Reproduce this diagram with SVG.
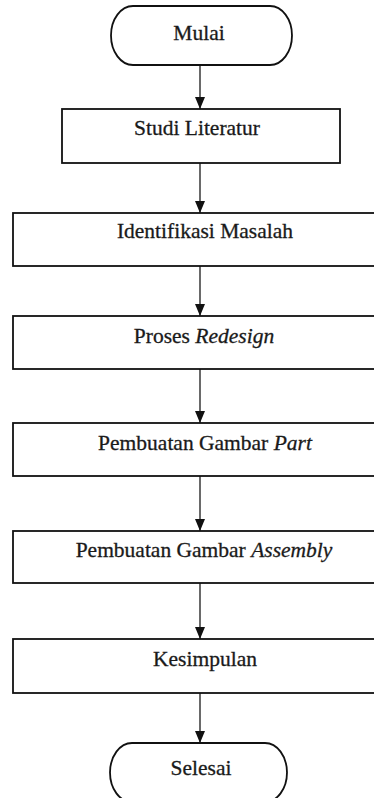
<svg xmlns="http://www.w3.org/2000/svg" width="374" height="798" viewBox="0 0 374 798">
  <defs>
    <style>
      .box { fill: #ffffff; stroke: #111111; stroke-width: 1.8; }
      .lbl { font-family: 'Liberation Serif', 'DejaVu Serif', serif; font-size: 21.5px; fill: #1a1a1a; stroke: #1a1a1a; stroke-width: 0.3; text-anchor: middle; }
      .it { font-style: italic; }
      .conn { stroke: #444444; stroke-width: 1.6; fill: none; }
    </style>
    <marker id="arr" viewBox="0 0 12 10" refX="12" refY="5" markerWidth="12" markerHeight="10" markerUnits="userSpaceOnUse" orient="auto">
      <path d="M0,0 L12,5 L0,10 Z" fill="#111111"/>
    </marker>
  </defs>
  <rect width="374" height="798" fill="#ffffff"/>

  <g id="connectors">
    <line class="conn" x1="200" y1="65" x2="200" y2="109" marker-end="url(#arr)"/>
    <line class="conn" x1="200" y1="163" x2="200" y2="213" marker-end="url(#arr)"/>
    <line class="conn" x1="200" y1="266" x2="200" y2="316" marker-end="url(#arr)"/>
    <line class="conn" x1="200" y1="369" x2="200" y2="423" marker-end="url(#arr)"/>
    <line class="conn" x1="200" y1="476" x2="200" y2="531" marker-end="url(#arr)"/>
    <line class="conn" x1="200" y1="583" x2="200" y2="639" marker-end="url(#arr)"/>
    <line class="conn" x1="200" y1="693" x2="200" y2="743" marker-end="url(#arr)"/>
  </g>

  <g id="mulai">
    <path class="box" d="M133,6 L270,6 A22,29.5 0 0 1 270,65 L133,65 A22,29.5 0 0 1 133,6 Z"/>
    <text class="lbl" font-family="Liberation Serif" x="199" y="40">Mulai</text>
  </g>

  <g id="studi-literatur">
    <rect class="box" x="62" y="109" width="278" height="54"/>
    <text class="lbl" font-family="Liberation Serif" x="197" y="135">Studi Literatur</text>
  </g>

  <g id="identifikasi-masalah">
    <rect class="box" x="13" y="213" width="382" height="53"/>
    <text class="lbl" font-family="Liberation Serif" x="205" y="238">Identifikasi Masalah</text>
  </g>

  <g id="proses-redesign">
    <rect class="box" x="13" y="316" width="382" height="53"/>
    <text class="lbl" font-family="Liberation Serif" x="204" y="343">Proses <tspan class="it">Redesign</tspan></text>
  </g>

  <g id="gambar-part">
    <rect class="box" x="13" y="423" width="382" height="53"/>
    <text class="lbl" font-family="Liberation Serif" x="205" y="450">Pembuatan Gambar <tspan class="it">Part</tspan></text>
  </g>

  <g id="gambar-assembly">
    <rect class="box" x="13" y="531" width="382" height="52"/>
    <text class="lbl" font-family="Liberation Serif" x="204" y="557">Pembuatan Gambar <tspan class="it">Assembly</tspan></text>
  </g>

  <g id="kesimpulan">
    <rect class="box" x="13" y="639" width="382" height="54"/>
    <text class="lbl" font-family="Liberation Serif" x="205" y="666">Kesimpulan</text>
  </g>

  <g id="selesai">
    <path class="box" d="M132,743 L265,743 A22,29.5 0 0 1 265,802 L132,802 A22,29.5 0 0 1 132,743 Z"/>
    <text class="lbl" font-family="Liberation Serif" x="201" y="775">Selesai</text>
  </g>
</svg>
